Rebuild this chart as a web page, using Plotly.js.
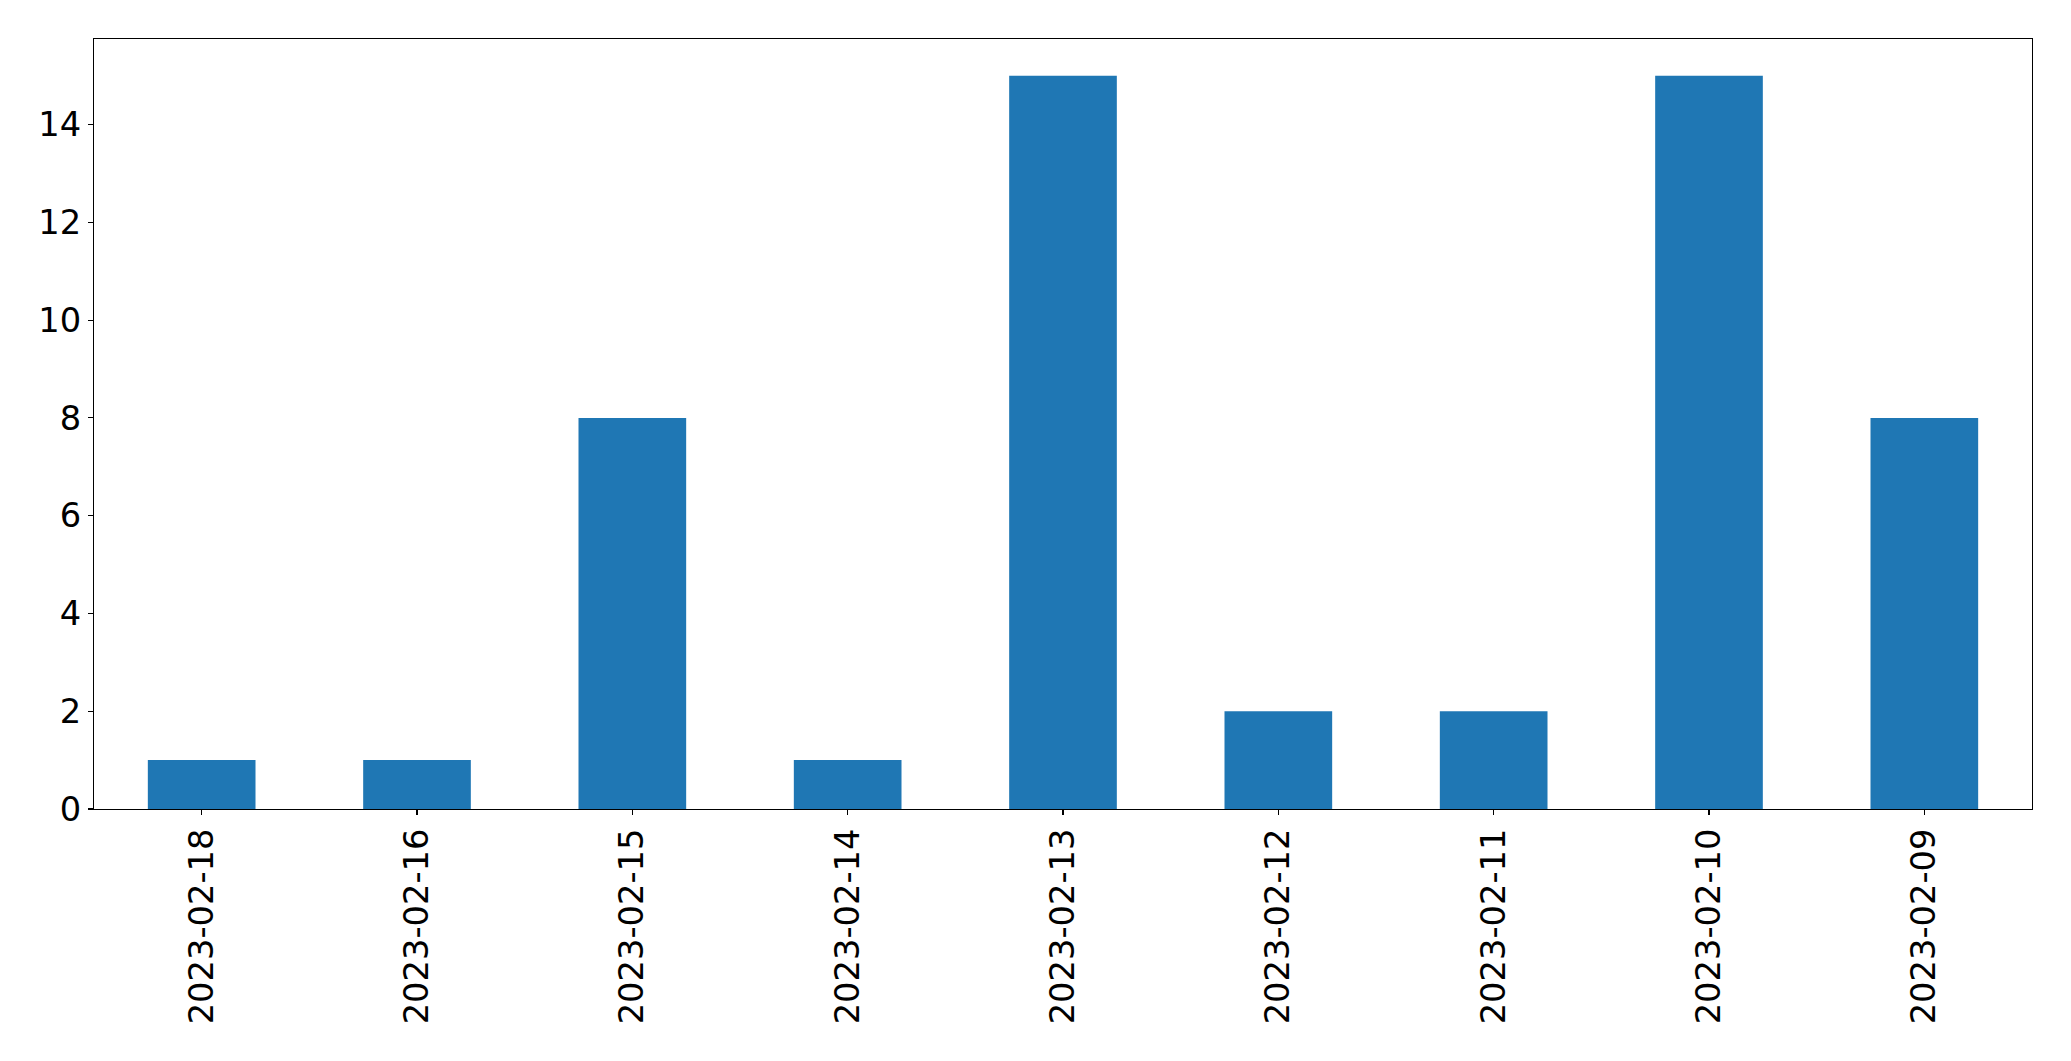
<!DOCTYPE html>
<html>
<head>
<meta charset="utf-8">
<script src="https://cdn.plot.ly/plotly-3.0.1.min.js"></script>
<style>html,body{margin:0;padding:0;background:#fff;}#chart{width:2071px;height:1061px;}</style>
</head>
<body>
<div id="chart"></div>
<script>
const categories = ["2023-02-18","2023-02-16","2023-02-15","2023-02-14","2023-02-13","2023-02-12","2023-02-11","2023-02-10","2023-02-09"];
const counts = [1, 1, 8, 1, 15, 2, 2, 15, 8];
const yTicks = [0, 2, 4, 6, 8, 10, 12, 14];

const fontFamily = "DejaVu Sans, sans-serif";
const fontSize = 33.7;
const trace = {
  type: "bar",
  x: categories,
  y: counts,
  marker: {color: "#1f77b4", line: {width: 0}},
  hoverinfo: "x+y"
};
const layout = {
  width: 2071,
  height: 1061,
  margin: {l: 94, r: 39, t: 39, b: 252, pad: 0},
  paper_bgcolor: "#ffffff",
  plot_bgcolor: "#ffffff",
  bargap: 0.5,
  showlegend: false,
  font: {family: fontFamily, size: fontSize, color: "#000000"},
  xaxis: {
    type: "category",
    range: [-0.5, categories.length - 0.5],
    tickangle: -90,
    ticks: "outside",
    ticklen: 5,
    tickwidth: 1.1,
    tickcolor: "#000",
    showline: true,
    linecolor: "#000",
    linewidth: 1.1,
    mirror: true,
    showgrid: false,
    zeroline: false,
    tickfont: {family: fontFamily, size: fontSize, color: "#000"}
  },
  yaxis: {
    range: [0, 15.75],
    tickmode: "array",
    tickvals: yTicks,
    ticktext: yTicks.map(String),
    ticks: "outside",
    ticklen: 5,
    tickwidth: 1.1,
    tickcolor: "#000",
    showline: true,
    linecolor: "#000",
    linewidth: 1.1,
    mirror: true,
    showgrid: false,
    zeroline: false,
    tickfont: {family: fontFamily, size: fontSize, color: "#000"}
  }
};
Plotly.newPlot("chart", [trace], layout, {displayModeBar: false, staticPlot: true});
</script>
</body>
</html>
